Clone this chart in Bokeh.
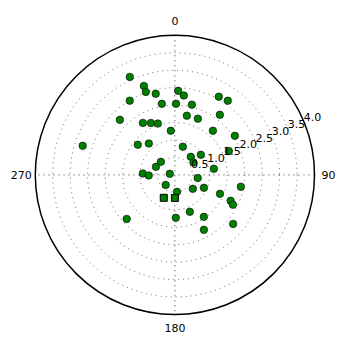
import numpy as np
from bokeh.plotting import figure
from bokeh.models import Range1d
from bokeh.core.properties import value
from bokeh.embed import file_html
from bokeh.resources import INLINE

# compass angle in degrees (clockwise from north) and radius
theta_deg = [335.3, 340.8, 340.7, 346.7, 328.7, 349.6, 0.9, 315.0, 328.4, 335.2,
             341.6, 354.7, 287.5, 309.1, 320.3, 312.9, 293.0, 272.5, 268.7, 282.2,
             222.6, 227.6, 2.2, 6.4, 29.3, 35.5, 13.6, 11.4, 22.2, 36.8,
             40.7, 56.9, 15.7, 41.3, 52.2, 66.1, 56.3, 81.1, 97.7, 172.9,
             127.8, 114.0, 112.8, 100.2, 114.9, 117.2, 158.0, 178.8, 145.4, 130.1,
             152.2]
radius = [3.09, 2.70, 2.52, 2.39, 2.49, 2.07, 2.04, 2.23, 1.75, 1.64,
          1.55, 1.27, 2.77, 1.37, 1.17, 0.55, 0.59, 0.92, 0.75, 0.15,
          0.39, 1.87, 2.41, 2.29, 2.57, 2.61, 2.07, 1.73, 1.74, 2.15,
          1.67, 2.05, 0.84, 0.69, 0.94, 1.69, 0.64, 1.13, 0.66, 0.49,
          0.65, 0.91, 1.40, 1.92, 1.76, 1.87, 1.14, 1.23, 1.46, 2.18,
          1.78]
sq_theta_deg = [205.9, 180.0]
sq_radius = [0.73, 0.66]

r_ticks = [0.5, 1.0, 1.5, 2.0, 2.5, 3.0, 3.5, 4.0]
r_tick_labels = ["0.5", "1.0", "1.5", "2.0", "2.5", "3.0", "3.5", "4.0"]
angle_ticks = [0, 90, 180, 270]
angle_labels = ["0", "90", "180", "270"]
r_max = 4.0


def to_xy(th_deg, r):
    th = np.radians(np.asarray(th_deg, dtype=float))
    r = np.asarray(r, dtype=float)
    return r * np.sin(th), r * np.cos(th)


W = H = 350
scale = 34.9
cx = cy = 174.4

p = figure(width=W, height=H, output_backend="svg", toolbar_location=None,
           min_border=0, x_range=Range1d(-cx / scale, (W - cx) / scale),
           y_range=Range1d(-(H - cy) / scale, cy / scale))
p.axis.visible = False
p.grid.visible = False
p.outline_line_color = None
p.background_fill_color = "white"
p.border_fill_color = "white"

# dotted radial grid circles
p.circle(x=[0] * 7, y=[0] * 7, radius=r_ticks[:-1], fill_alpha=0,
         line_color="black", line_width=0.7, line_dash="1 4", line_alpha=0.85)
# angular grid lines
for a in angle_ticks[:2]:
    xs, ys = to_xy([a, a + 180], [r_max, r_max])
    p.line(x=list(xs), y=list(ys), line_color="black", line_width=0.8,
           line_dash="1 4")
# outer circle
p.circle(x=[0], y=[0], radius=[r_max], fill_alpha=0, line_color="black",
         line_width=1.5)

# data
x, y = to_xy(theta_deg, radius)
p.scatter(x=x, y=y, marker="circle", size=7.5, fill_color="#008000",
          line_color="black", line_width=0.6)
sx, sy = to_xy(sq_theta_deg, sq_radius)
p.scatter(x=sx, y=sy, marker="square", size=7, fill_color="#008000",
          line_color="black", line_width=1.0)

# angle labels
ax_, ay_ = to_xy(angle_ticks, [r_max * 1.1] * 4)
p.text(x=ax_, y=ay_, text=angle_labels, text_align="center",
       text_baseline="middle", text_font=value("DejaVu Sans"),
       text_font_size="11px", text_color="black")
# radial labels
rx, ry = to_xy([67.5] * len(r_ticks), r_ticks)
p.text(x=rx, y=ry, text=r_tick_labels, text_align="left",
       text_baseline="bottom", text_font=value("DejaVu Sans"),
       text_font_size="11px", text_color="black")

open("out.html", "w").write(file_html(p, INLINE))
